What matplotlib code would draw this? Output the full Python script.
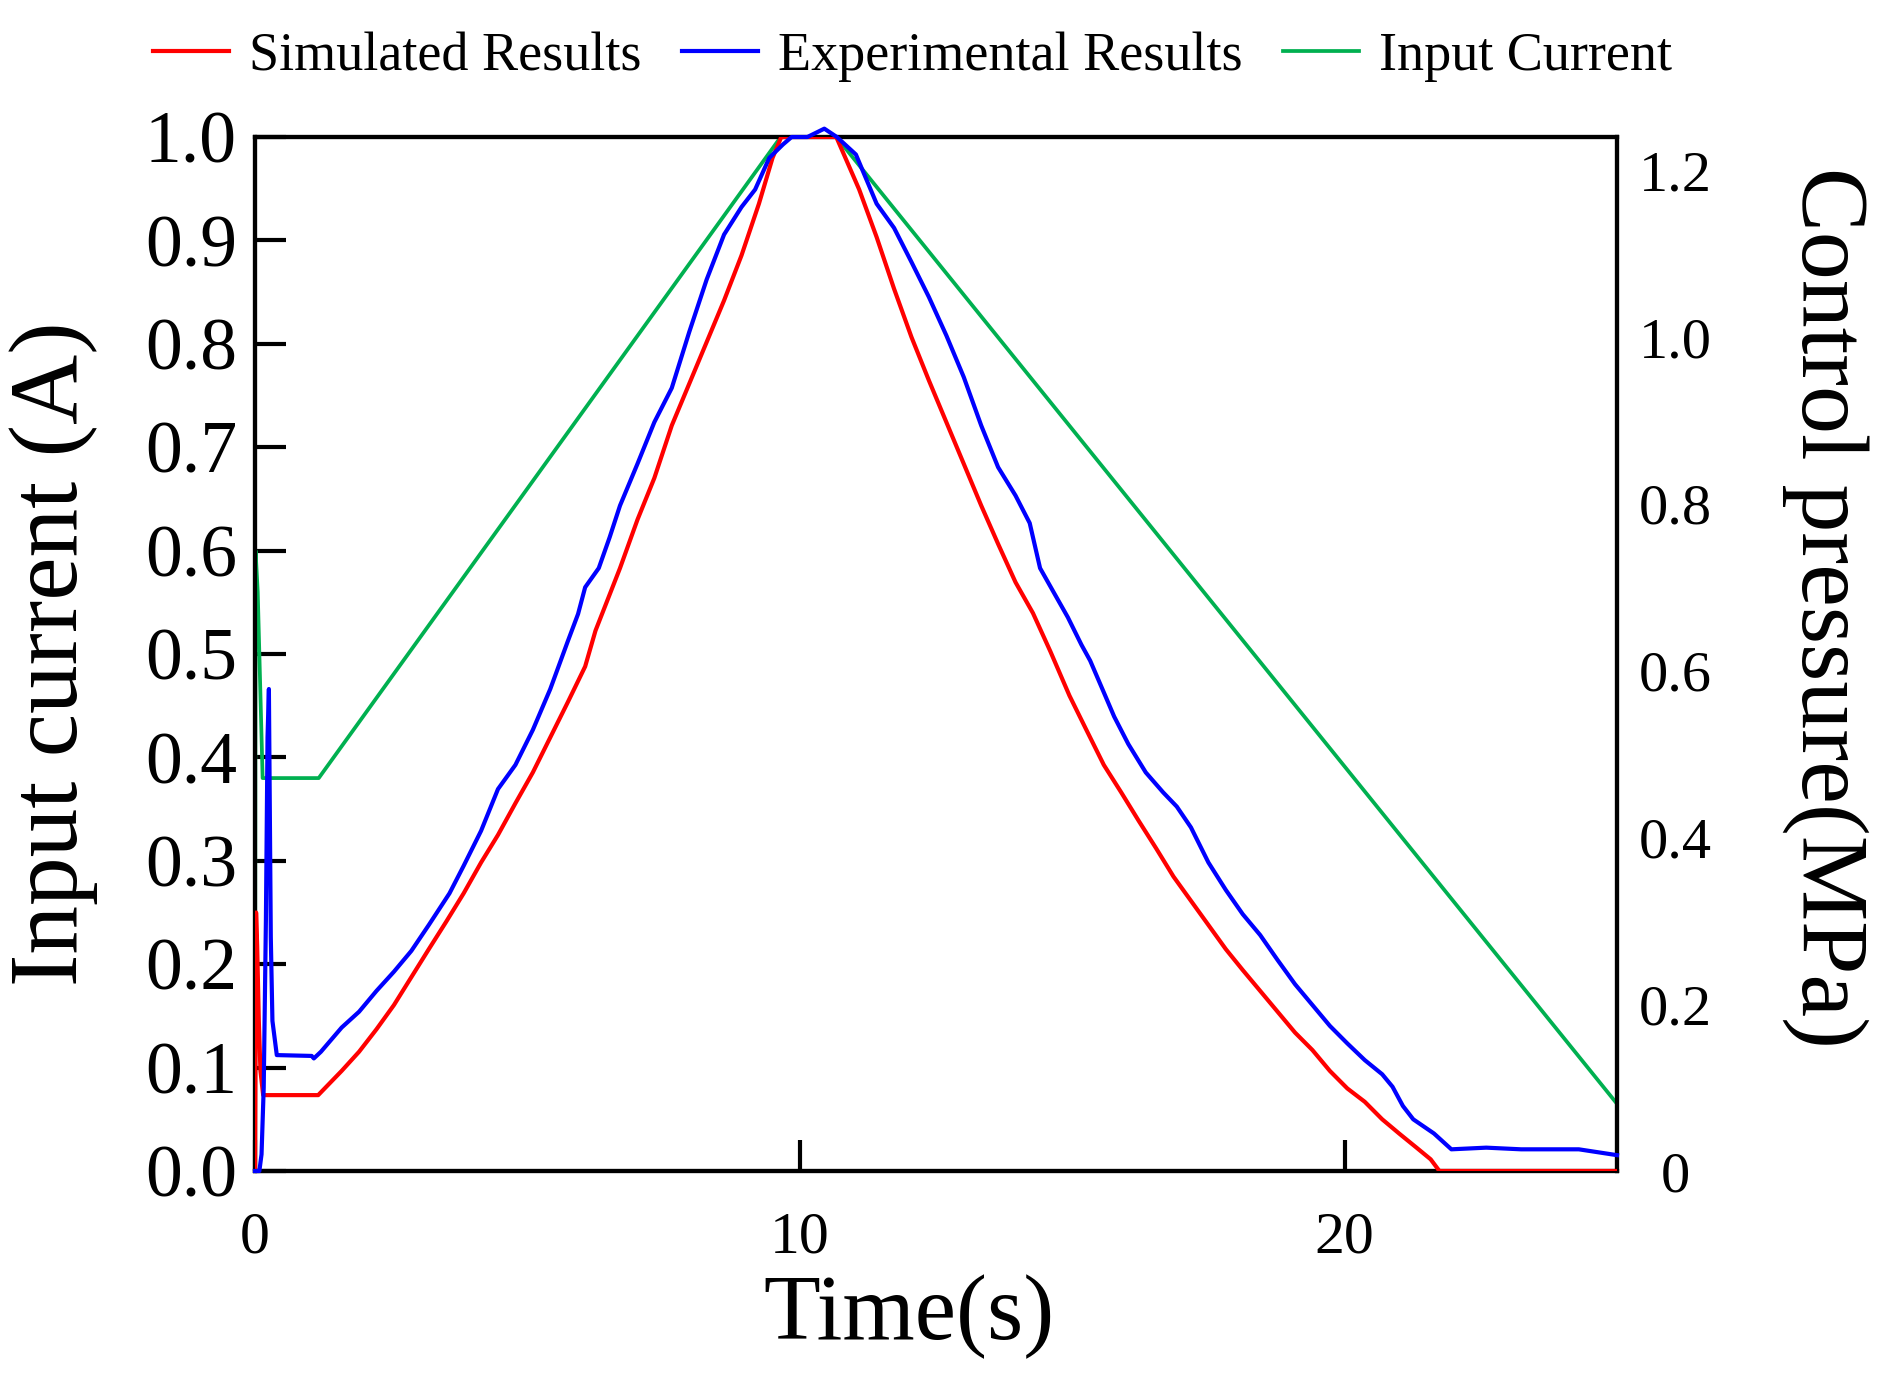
import matplotlib
matplotlib.use("Agg")
import matplotlib.pyplot as plt
from matplotlib.lines import Line2D

# ---------------- data ----------------
# Input current (A), left axis
t_current = [0, 0.01, 0.05, 0.14, 1.17, 9.65, 10.67, 25]
i_current = [0, 0.60, 0.56, 0.38, 0.38, 1.0, 1.0, 0.065]

# Simulated control pressure (MPa), right axis
t_sim = [0, 0.02, 0.04, 0.07, 0.10, 0.15, 1.16, 1.59, 1.91, 2.23, 2.55, 2.87, 3.19,
         3.51, 3.83, 4.15, 4.46, 4.78, 5.10, 5.42, 5.74, 6.06, 6.25, 6.70, 7.02,
         7.33, 7.65, 7.97, 8.29, 8.61, 8.93, 9.25, 9.50, 9.66, 10.67, 11.09, 11.41,
         11.73, 12.05, 12.37, 12.69, 13.01, 13.33, 13.64, 13.96, 14.28, 14.60,
         14.95, 15.26, 15.58, 15.90, 16.22, 16.54, 16.86, 17.18, 17.50, 17.82,
         18.13, 18.45, 18.77, 19.09, 19.41, 19.73, 20.05, 20.37, 20.69, 21.00,
         21.32, 21.58, 21.74, 25]
p_sim = [0, 0.31, 0.27, 0.18, 0.12, 0.091, 0.091, 0.120, 0.143, 0.170, 0.199, 0.2325,
         0.266, 0.299, 0.333, 0.370, 0.403, 0.441, 0.478, 0.520, 0.562, 0.605, 0.648,
         0.723, 0.781, 0.831, 0.894, 0.944, 0.994, 1.044, 1.098, 1.160, 1.215, 1.24,
         1.24, 1.177, 1.120, 1.058, 1.000, 0.948, 0.898, 0.848, 0.798, 0.752, 0.706,
         0.669, 0.623, 0.570, 0.529, 0.487, 0.454, 0.420, 0.387, 0.353, 0.324, 0.295,
         0.266, 0.241, 0.216, 0.191, 0.166, 0.145, 0.120, 0.099, 0.083, 0.062, 0.045,
         0.028, 0.014, 0, 0]

# Experimental control pressure (MPa), right axis
t_exp = [0, 0.08, 0.12, 0.16, 0.20, 0.23, 0.255, 0.27, 0.29, 0.32, 0.40, 1.04, 1.08,
         1.21, 1.59, 1.91, 2.23, 2.55, 2.87, 3.19, 3.57, 3.83, 4.15, 4.46, 4.78,
         5.10, 5.42, 5.74, 5.93, 6.06, 6.31, 6.51, 6.70, 7.02, 7.33, 7.65, 7.97,
         8.29, 8.61, 8.93, 9.18, 9.44, 9.69, 9.85, 10.14, 10.45, 10.68, 11.03, 11.41,
         11.73, 12.05, 12.37, 12.69, 13.01, 13.33, 13.64, 13.96, 14.22, 14.41, 14.66,
         14.92, 15.17, 15.33, 15.58, 15.77, 16.03, 16.35, 16.67, 16.92, 17.18, 17.50,
         17.82, 18.13, 18.45, 18.77, 19.09, 19.41, 19.73, 20.05, 20.37, 20.69, 20.88,
         21.07, 21.26, 21.64, 21.96, 22.60, 23.24, 24.30, 25]
p_exp = [0, 0.0, 0.02, 0.10, 0.30, 0.52, 0.578, 0.45, 0.28, 0.18, 0.139, 0.138, 0.135,
         0.143, 0.172, 0.191, 0.216, 0.239, 0.264, 0.295, 0.333, 0.366, 0.408, 0.458,
         0.487, 0.529, 0.578, 0.635, 0.668, 0.700, 0.723, 0.760, 0.798, 0.848, 0.898,
         0.939, 1.006, 1.069, 1.123, 1.156, 1.177, 1.215, 1.231, 1.24, 1.24, 1.25, 1.24,
         1.219, 1.160, 1.131, 1.090, 1.048, 1.002, 0.952, 0.894, 0.844, 0.810, 0.777,
         0.723, 0.694, 0.664, 0.631, 0.612, 0.574, 0.545, 0.512, 0.478, 0.454, 0.437,
         0.412, 0.370, 0.337, 0.308, 0.283, 0.253, 0.224, 0.199, 0.174, 0.153, 0.133,
         0.116, 0.101, 0.078, 0.062, 0.045, 0.026, 0.028, 0.026, 0.026, 0.019]

x_ticks = [0, 10, 20]
left_ticks = [0.0, 0.1, 0.2, 0.3, 0.4, 0.5, 0.6, 0.7, 0.8, 0.9, 1.0]
left_labels = ["0.0", "0.1", "0.2", "0.3", "0.4", "0.5", "0.6", "0.7", "0.8", "0.9", "1.0"]
right_ticks = [0, 0.2, 0.4, 0.6, 0.8, 1.0, 1.2]
right_labels = ["0", "0.2", "0.4", "0.6", "0.8", "1.0", "1.2"]
legend_labels = ["Simulated Results", "Experimental Results", "Input Current"]

RED = "#ff0000"
BLUE = "#0000ff"
GREEN = "#00b050"

plt.rcParams["font.family"] = ["Liberation Serif", "DejaVu Serif"]
plt.rcParams["mathtext.fontset"] = "stix"

W, H = 1895, 1389
fig = plt.figure(figsize=(W / 100, H / 100), dpi=100)
ax = fig.add_axes([255 / W, 1 - 1171 / H, 1362 / W, 1034 / H])
ax2 = ax.twinx()

ax.plot(t_current, i_current, color=GREEN, lw=2.7, zorder=3)
ax2.plot(t_sim, p_sim, color=RED, lw=3.0, zorder=3)
ax2.plot(t_exp, p_exp, color=BLUE, lw=3.0, zorder=3, clip_on=False)

ax.set_xlim(0, 25)
ax.set_ylim(0, 1.0)
ax2.set_ylim(0, 1.24)

for a in (ax, ax2):
    for s in a.spines.values():
        s.set_linewidth(3.0)

ax.set_xticks(x_ticks)
ax.set_xticklabels([str(v) for v in x_ticks])
ax.set_yticks(left_ticks)
ax.set_yticklabels(left_labels)
ax.tick_params(axis="y", direction="in", length=22, width=3.0, pad=13, labelsize=53)
ax.tick_params(axis="x", direction="in", length=22, width=3.0, pad=29, labelsize=43)

ax2.set_yticks(right_ticks)
ax2.set_yticklabels(right_labels)
ax2.tick_params(axis="y", length=0, pad=42, labelsize=42)
for lbl in ax2.get_yticklabels():
    lbl.set_horizontalalignment("center")

ax.set_ylabel("Input current (A)", fontsize=70, va="center")
ax.yaxis.set_label_coords(-0.1476, 0.5)
ax.set_xlabel("Time(s)", fontsize=67, va="center")
ax.xaxis.set_label_coords(0.480, -0.141)
ax2.set_ylabel("Control pressure(MPa)", fontsize=69, rotation=270, va="center")
ax2.yaxis.set_label_coords(1.1527, 0.545)

handles = [Line2D([], [], color=RED, lw=3.0),
           Line2D([], [], color=BLUE, lw=3.0),
           Line2D([], [], color=GREEN, lw=2.7)]
fig.legend(handles, legend_labels, loc="center left",
           bbox_to_anchor=(153 / W, 1 - 57 / H), ncol=3, frameon=False,
           fontsize=39, handlelength=1.4, handletextpad=0.37,
           columnspacing=0.75, borderpad=0, borderaxespad=0)

fig.savefig("out.png", dpi=100)
